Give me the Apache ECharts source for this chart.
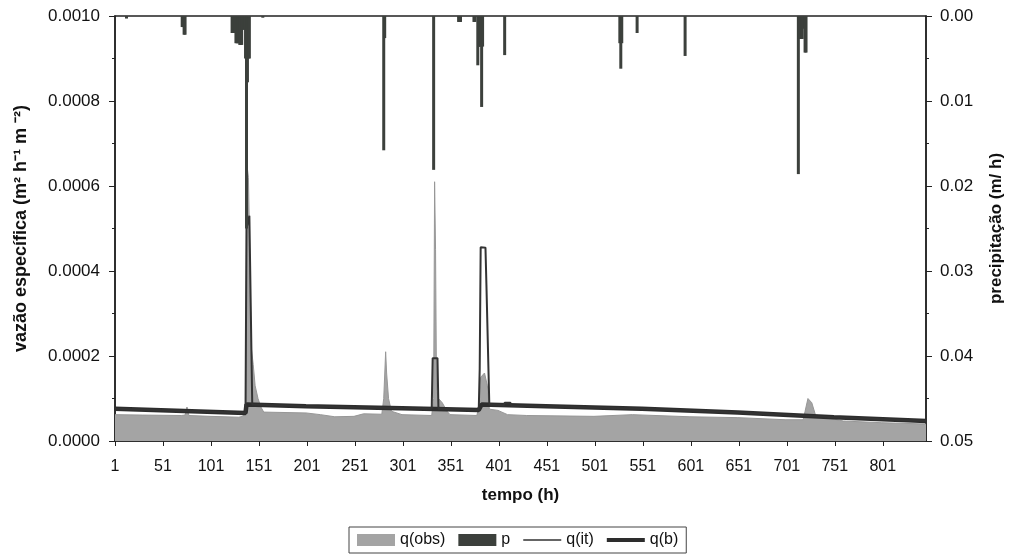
<!DOCTYPE html>
<html>
<head>
<meta charset="utf-8">
<script src="https://cdn.jsdelivr.net/npm/echarts@6/dist/echarts.min.js"></script>
<style>html,body{margin:0;padding:0;background:#fff}#c{width:1013px;height:555px}</style>
</head>
<body>
<div id="c"></div>
<script>
// x ticks (hours), labels every 50 h starting at 1
const xTickLabels = [1, 51, 101, 151, 201, 251, 301, 351, 401, 451, 501, 551, 601, 651, 701, 751, 801];
const leftTicks = [0.0000, 0.0002, 0.0004, 0.0006, 0.0008, 0.0010];
const rightTicks = [0.00, 0.01, 0.02, 0.03, 0.04, 0.05];

// q(obs) observed specific discharge [hour, m2 h-1 m-2]
const qObs = [
  [1,0.000062],[30,0.000061],[70,0.000060],[74,0.000061],[76,0.000080],[78,0.000060],
  [100,0.000058],[130,0.000056],[134,0.000058],[136,0.000062],[137,0.000070],[138,0.00050],
  [139,0.00064],[140,0.00062],[141,0.00050],[142,0.00035],[143,0.00022],[145,0.00018],
  [147,0.00013],[150,0.00010],[153,0.000080],[156,0.000068],[200,0.000066],[215,0.000062],
  [230,0.000057],[250,0.000058],[260,0.000064],[279,0.000063],[281,0.00010],[283,0.00021],
  [284,0.00016],[286,0.00010],[289,0.000070],[300,0.000062],[331,0.000060],[333,0.00010],
  [334,0.00061],[335,0.00045],[336,0.00012],[338,0.00010],[342,0.000090],[347,0.000070],
  [350,0.000062],[378,0.000060],[380,0.000080],[382,0.00015],[386,0.00016],[389,0.00013],
  [391,0.000075],[400,0.000072],[410,0.000062],[430,0.000060],[500,0.000058],[540,0.000062],
  [600,0.000057],[650,0.000055],[700,0.000050],[718,0.000050],[720,0.000070],[723,0.00010],
  [727,0.000090],[731,0.000060],[760,0.000047],[800,0.000043],[846,0.000040]
];

// p precipitation [hour, m/h]
const precip = [
  [13,0.0003],[71,0.0013],[72,0.0013],[73,0.0022],[74,0.0022],
  [123,0.0020],[124,0.0020],[125,0.0020],[126,0.0020],[127,0.0032],[128,0.0032],[129,0.0032],[130,0.0032],
  [131,0.0034],[132,0.0034],[133,0.0034],[134,0.0016],[135,0.0016],[136,0.0016],
  [137,0.0050],[138,0.0250],[139,0.0078],[140,0.0050],[141,0.0050],[155,0.0002],
  [281,0.0158],[282,0.0026],[333,0.0181],[359,0.0007],[360,0.0007],[361,0.0007],
  [375,0.0007],[376,0.0007],[379,0.0058],[380,0.0036],[381,0.0036],[382,0.0036],[383,0.0107],[384,0.0036],
  [407,0.0046],[527,0.0032],[528,0.0062],[529,0.0032],[545,0.0020],[595,0.0047],
  [713,0.0186],[714,0.0027],[715,0.0027],[716,0.0027],[717,0.0027],[718,0.0015],[720,0.0043],[721,0.0043]
];

// q(it) modelled discharge [hour, m2 h-1 m-2]
const qIt = [
  [1,0.000076],[137,0.000066],[138,0.00050],[140,0.00050],[141,0.00053],[143,0.00053],[144,0.000086],
  [200,0.000082],[300,0.000077],[331,0.000076],[332,0.000195],[337,0.000195],[338,0.000076],
  [380,0.000073],[381,0.00017],[382,0.000456],[387,0.000455],[388,0.000367],[390,0.000367],[391,0.000086],
  [406,0.000084],[407,0.000090],[413,0.000090],[414,0.000083],[450,0.000082],[550,0.000076],
  [650,0.000067],[750,0.000056],[846,0.000047]
];

// q(b) base discharge [hour, m2 h-1 m-2]
const qB = [
  [1,0.000076],[137,0.000066],[138,0.000086],[200,0.000082],[300,0.000077],[380,0.000073],
  [383,0.000086],[450,0.000082],[550,0.000076],[650,0.000067],[750,0.000056],[846,0.000047]
];

const toX = arr => arr.map(d => [d[0] - 1, d[1]]);
const FONT = 'Liberation Sans, Arial, sans-serif';
const thinIcon = 'path://M0,0L0.05,0L0.05,0.05ZM0,5.3L38,5.3L38,6.7L0,6.7ZM38,12L37.95,12L37.95,11.95Z';
const thickIcon = 'path://M0,0L0.05,0L0.05,0.05ZM0,4L38,4L38,8L0,8ZM38,12L37.95,12L37.95,11.95Z';
const chart = echarts.init(document.getElementById('c'));
chart.setOption({
  animation: false,
  backgroundColor: '#fff',
  textStyle: {fontFamily: FONT, color: '#111'},
  grid: {left: 115, right: 84, top: 16, bottom: 114, show: true, borderColor: '#222', borderWidth: 1.5, backgroundColor: 'transparent'},
  legend: {
    left: 349, top: 527, orient: 'horizontal',
    borderColor: '#444', borderWidth: 1, padding: [5, 8, 5, 8], itemGap: 13,
    itemWidth: 38, itemHeight: 12, symbolKeepAspect: false,
    textStyle: {fontFamily: FONT, fontSize: 16, color: '#111'},
    data: [
      {name: 'q(obs)', icon: 'rect'},
      {name: 'p', icon: 'rect'},
      {name: 'q(it)', icon: thinIcon},
      {name: 'q(b)', icon: thickIcon}
    ]
  },
  xAxis: {
    type: 'value', min: 0, max: 845, interval: 50,
    name: 'tempo (h)', nameLocation: 'middle', nameGap: 46,
    nameTextStyle: {fontFamily: FONT, fontSize: 17, fontWeight: 'bold', color: '#111'},
    axisLine: {show: true, lineStyle: {color: '#222', width: 1.5}},
    axisTick: {show: true, inside: false, length: 5, lineStyle: {color: '#222'}},
    axisLabel: {fontFamily: FONT, fontSize: 16, color: '#111', margin: 18, showMaxLabel: false,
      formatter: v => { const l = xTickLabels.find(t => t === v + 1); return l === undefined ? '' : String(l); }},
    splitLine: {show: false}
  },
  yAxis: [
    {
      type: 'value', min: leftTicks[0], max: leftTicks[leftTicks.length - 1], interval: 0.0002,
      name: 'vazão específica (m² h⁻¹ m ⁻²)', nameLocation: 'middle', nameGap: 85,
      nameTextStyle: {fontFamily: FONT, fontSize: 18, fontWeight: 'bold', color: '#111'},
      axisLine: {show: true, lineStyle: {color: '#222', width: 1.5}},
      axisTick: {show: true, inside: false, length: 6, lineStyle: {color: '#222'}},
      minorTick: {show: true, splitNumber: 2, length: 3, lineStyle: {color: '#222'}},
      axisLabel: {fontFamily: FONT, fontSize: 17, color: '#111', margin: 15, formatter: v => v.toFixed(4)},
      splitLine: {show: false}
    },
    {
      type: 'value', min: rightTicks[0], max: rightTicks[rightTicks.length - 1], interval: 0.01, inverse: true,
      position: 'right',
      name: 'precipitação (m/ h)', nameLocation: 'middle', nameGap: 62,
      nameTextStyle: {fontFamily: FONT, fontSize: 17, fontWeight: 'bold', color: '#111'},
      axisLine: {show: true, lineStyle: {color: '#222', width: 1.5}},
      axisTick: {show: true, inside: false, length: 6, lineStyle: {color: '#222'}},
      minorTick: {show: true, splitNumber: 2, length: 3, lineStyle: {color: '#222'}},
      axisLabel: {fontFamily: FONT, fontSize: 17, color: '#111', margin: 14, formatter: v => v.toFixed(2)},
      splitLine: {show: false}
    }
  ],
  series: [
    {
      name: 'q(obs)', type: 'line', yAxisIndex: 0, data: toX(qObs), symbol: 'none', z: 1,
      itemStyle: {color: '#a4a4a4'},
      lineStyle: {color: '#979797', width: 1},
      areaStyle: {color: '#a4a4a4', opacity: 1}
    },
    {
      name: 'q(b)', type: 'line', yAxisIndex: 0, data: toX(qB), symbol: 'none', z: 2,
      itemStyle: {color: '#2d2d2d'},
      lineStyle: {color: '#2d2d2d', width: 4.5}
    },
    {
      name: 'q(it)', type: 'line', yAxisIndex: 0, data: toX(qIt), symbol: 'none', z: 3,
      itemStyle: {color: '#333'},
      lineStyle: {color: '#333', width: 2}
    },
    {
      name: 'p', type: 'bar', yAxisIndex: 1, data: toX(precip), barWidth: 3, z: 4,
      itemStyle: {color: '#3c403c'}
    }
  ]
});
</script>
</body>
</html>
